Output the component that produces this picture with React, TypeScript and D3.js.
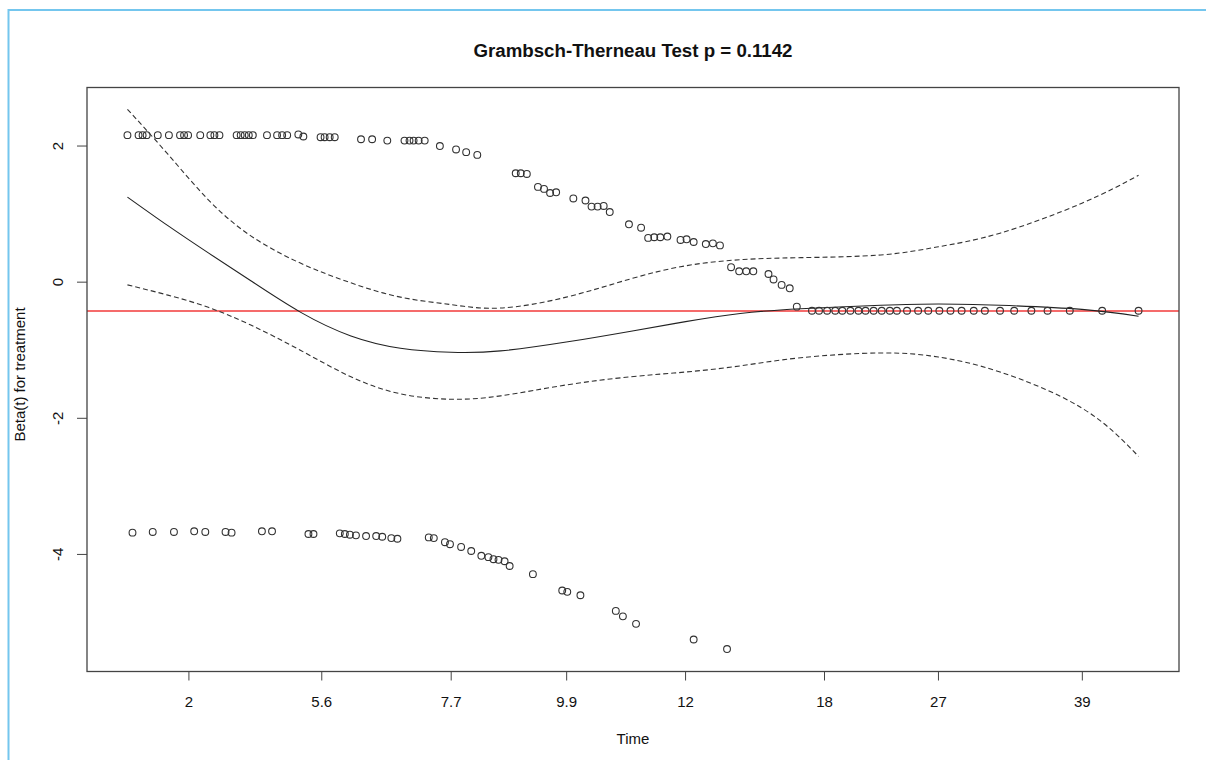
import React from "react";
import * as d3 from "d3";

// Scaled Schoenfeld residuals for treatment, x on the KM-transformed time scale (0..1)
const upperX = [0.000, 0.011, 0.015, 0.019, 0.030, 0.041, 0.052, 0.056, 0.060, 0.072, 0.082, 0.086, 0.091, 0.108, 0.112, 0.116, 0.120, 0.124, 0.138, 0.148, 0.153, 0.158,
  0.169, 0.174, 0.191, 0.195, 0.200, 0.205, 0.231, 0.242, 0.257, 0.274, 0.279, 0.283, 0.288, 0.294, 0.309, 0.325, 0.335, 0.346,
  0.384, 0.389, 0.395, 0.406, 0.412, 0.418, 0.424, 0.441, 0.453, 0.459, 0.465, 0.471, 0.477, 0.496, 0.508, 0.515, 0.521, 0.527, 0.534,
  0.547, 0.553, 0.560, 0.572, 0.579, 0.586, 0.597, 0.605, 0.612, 0.619, 0.634, 0.639, 0.647, 0.655, 0.662,
  0.677, 0.684, 0.692, 0.700, 0.707, 0.715, 0.723, 0.730, 0.738, 0.746, 0.754, 0.761, 0.771, 0.782, 0.792, 0.803, 0.814, 0.825, 0.837, 0.848, 0.863, 0.877, 0.894, 0.910, 0.932, 0.964, 1.000];
const upperY = [2.16, 2.16, 2.16, 2.16, 2.16, 2.16, 2.16, 2.16, 2.16, 2.16, 2.16, 2.16, 2.16, 2.16, 2.16, 2.16, 2.16, 2.16, 2.16, 2.16, 2.16, 2.16,
  2.17, 2.14, 2.13, 2.13, 2.13, 2.13, 2.10, 2.10, 2.08, 2.08, 2.08, 2.08, 2.08, 2.08, 2.00, 1.95, 1.91, 1.87,
  1.60, 1.60, 1.59, 1.40, 1.37, 1.31, 1.32, 1.23, 1.20, 1.11, 1.11, 1.12, 1.03, 0.85, 0.80, 0.65, 0.66, 0.66, 0.67,
  0.62, 0.63, 0.59, 0.56, 0.57, 0.54, 0.22, 0.16, 0.16, 0.16, 0.12, 0.04, -0.04, -0.09, -0.36,
  -0.42, -0.42, -0.42, -0.42, -0.42, -0.42, -0.42, -0.42, -0.42, -0.42, -0.42, -0.42, -0.42, -0.42, -0.42, -0.42, -0.42, -0.42, -0.42, -0.42, -0.42, -0.42, -0.42, -0.42, -0.42, -0.42, -0.42];

const lowerX = [0.005, 0.025, 0.046, 0.066, 0.077, 0.097, 0.103, 0.133, 0.143, 0.179, 0.184, 0.210, 0.215, 0.220, 0.226, 0.236, 0.246, 0.252, 0.261, 0.267,
  0.298, 0.303, 0.314, 0.319, 0.330, 0.340, 0.350, 0.357, 0.362, 0.367, 0.373, 0.378, 0.401, 0.430, 0.435, 0.448, 0.483, 0.490, 0.503, 0.560, 0.593];
const lowerY = [-3.68, -3.67, -3.67, -3.66, -3.67, -3.67, -3.68, -3.66, -3.66, -3.70, -3.70, -3.69, -3.70, -3.71, -3.72, -3.73, -3.73, -3.74, -3.76, -3.77,
  -3.75, -3.76, -3.82, -3.85, -3.89, -3.95, -4.02, -4.04, -4.07, -4.08, -4.10, -4.17, -4.29, -4.53, -4.55, -4.60, -4.83, -4.91, -5.02, -5.25, -5.39];

// Smoothed beta(t) estimate with its confidence band
const fitX = [0, 0.04, 0.08, 0.122, 0.171, 0.221, 0.270, 0.320, 0.369, 0.434, 0.498, 0.552, 0.606, 0.666, 0.745, 0.802, 0.863, 0.944, 1.0];
const fitY = [1.25, 0.83, 0.43, 0.02, -0.44, -0.79, -0.97, -1.03, -1.01, -0.88, -0.72, -0.58, -0.46, -0.39, -0.34, -0.32, -0.34, -0.40, -0.50];
const bandUpper = [2.54, 1.88, 1.21, 0.68, 0.28, -0.01, -0.22, -0.33, -0.38, -0.22, 0.05, 0.24, 0.33, 0.36, 0.40, 0.52, 0.72, 1.16, 1.57];
const bandLower = [-0.04, -0.19, -0.37, -0.63, -1.00, -1.39, -1.64, -1.72, -1.67, -1.51, -1.39, -1.32, -1.23, -1.11, -1.04, -1.10, -1.32, -1.85, -2.56];

// Overall (time-constant) coefficient
const coefLine = -0.423;

const xTickPos = [0.0608, 0.1922, 0.3202, 0.4344, 0.5520, 0.6894, 0.8021, 0.9444];
const xTickLabels = ["2", "5.6", "7.7", "9.9", "12", "18", "27", "39"];
const yTicks = [-4, -2, 0, 2];

const title = "Grambsch-Therneau Test p = 0.1142";
const xLabel = "Time";
const yLabel = "Beta(t) for treatment";

const W = 1206;
const H = 760;
const box = { left: 87, right: 1179, top: 87.5, bottom: 671.5 };
const FONT = "'Liberation Sans', Arial, sans-serif";

export default function App() {
  const x = d3.scaleLinear().domain([-0.04, 1.04]).range([box.left, box.right]);
  const y = d3.scaleLinear().domain([-5.72, 2.86]).range([box.bottom, box.top]);

  const line = d3
    .line<[number, number]>()
    .x((d) => x(d[0]))
    .y((d) => y(d[1]))
    .curve(d3.curveNatural);

  const fitPath = line(fitX.map((v, i) => [v, fitY[i]]) as [number, number][]) || "";
  const upPath = line(fitX.map((v, i) => [v, bandUpper[i]]) as [number, number][]) || "";
  const loPath = line(fitX.map((v, i) => [v, bandLower[i]]) as [number, number][]) || "";

  const pts = [
    ...upperX.map((v, i) => [v, upperY[i]]),
    ...lowerX.map((v, i) => [v, lowerY[i]]),
  ];

  const midY = (box.top + box.bottom) / 2;

  return (
    <svg
      width={W}
      height={H}
      style={{ position: "absolute", left: 0, top: 0, background: "#fff" }}
      fontFamily={FONT}
    >
      <rect x={0} y={0} width={W} height={H} fill="#fff" />
      {/* outer frame */}
      <path d={`M8.5,${H} L8.5,10 L${W},10`} fill="none" stroke="#74c6ee" strokeWidth={2} />

      <text x={(box.left + box.right) / 2} y={57} textAnchor="middle" fontSize={18.7} fontWeight="bold" fill="#111">
        {title}
      </text>

      <clipPath id="plotArea">
        <rect x={box.left} y={box.top} width={box.right - box.left} height={box.bottom - box.top} />
      </clipPath>

      <g clipPath="url(#plotArea)">
        <line x1={box.left} x2={box.right} y1={y(coefLine)} y2={y(coefLine)} stroke="#f23a3a" strokeWidth={1.4} />
        <path d={upPath} fill="none" stroke="#333" strokeWidth={1.1} strokeDasharray="5,3" />
        <path d={loPath} fill="none" stroke="#333" strokeWidth={1.1} strokeDasharray="5,3" />
        <path d={fitPath} fill="none" stroke="#222" strokeWidth={1.1} />
        {pts.map((p, i) => (
          <circle key={i} cx={x(p[0])} cy={y(p[1])} r={3.4} fill="none" stroke="#333" strokeWidth={1.1} />
        ))}
      </g>

      <rect
        x={box.left}
        y={box.top}
        width={box.right - box.left}
        height={box.bottom - box.top}
        fill="none"
        stroke="#444"
        strokeWidth={1.3}
      />

      {/* x axis */}
      {xTickPos.map((t, i) => (
        <g key={`xt${i}`}>
          <line x1={x(t)} x2={x(t)} y1={box.bottom} y2={box.bottom + 9} stroke="#444" strokeWidth={1} />
          <text x={x(t)} y={707} textAnchor="middle" fontSize={15} fill="#111">
            {xTickLabels[i]}
          </text>
        </g>
      ))}
      <text x={(box.left + box.right) / 2} y={744} textAnchor="middle" fontSize={15} fill="#111">
        {xLabel}
      </text>

      {/* y axis */}
      {yTicks.map((v) => (
        <g key={`yt${v}`}>
          <line x1={box.left - 10} x2={box.left} y1={y(v)} y2={y(v)} stroke="#444" strokeWidth={1} />
          <text
            transform={`translate(63,${y(v)}) rotate(-90)`}
            textAnchor="middle"
            fontSize={15}
            fill="#111"
          >
            {String(v)}
          </text>
        </g>
      ))}
      <text transform={`translate(25,${midY - 5}) rotate(-90)`} textAnchor="middle" fontSize={15} fill="#111">
        {yLabel}
      </text>
    </svg>
  );
}
